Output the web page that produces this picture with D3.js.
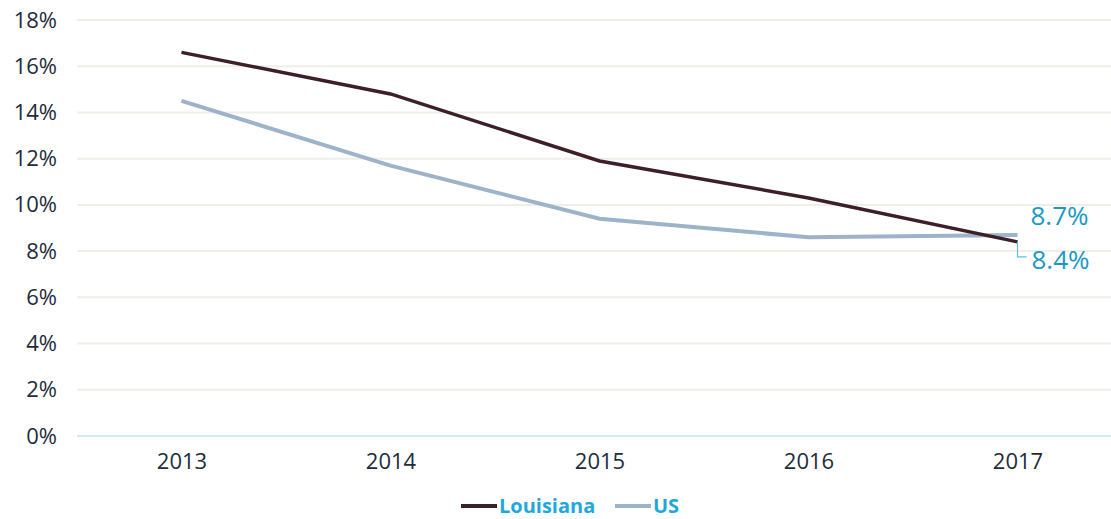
<!DOCTYPE html>
<html>
<head>
<meta charset="utf-8">
<script src="https://cdn.jsdelivr.net/npm/d3@7"></script>
<style>
  body { margin: 0; background: #fff; }
  svg text { font-family: "Open Sans", "DejaVu Sans", sans-serif; }
</style>
</head>
<body>
<svg width="1111" height="519"></svg>
<script>
const years = ['2013', '2014', '2015', '2016', '2017']
const louisiana = [16.6, 14.8, 11.9, 10.3, 8.4]
const us = [14.5, 11.7, 9.4, 8.6, 8.7]
const yTicks = [0, 2, 4, 6, 8, 10, 12, 14, 16, 18]

const svg = d3.select('svg')
const margin = { top: 20, left: 77, bottom: 83 }
const height = 519 - margin.top - margin.bottom

const x = d3.scalePoint()
  .domain(years)
  .range([margin.left, 1122])
  .padding(0.5)

const y = d3.scaleLinear()
  .domain([0, 18])
  .range([margin.top + height, margin.top])

// gridlines
svg.append('g')
  .selectAll('line')
  .data(yTicks)
  .enter().append('line')
  .attr('x1', margin.left)
  .attr('x2', 1111)
  .attr('y1', d => y(d))
  .attr('y2', d => y(d))
  .attr('stroke', d => d === 0 ? '#cfeaf2' : '#efefe9')
  .attr('stroke-width', 2)

// y axis labels
const yAxis = d3.axisLeft(y).tickValues(yTicks).tickFormat(d => d + '%').tickSize(0).tickPadding(20)
svg.append('g')
  .attr('transform', 'translate(' + margin.left + ',0)')
  .call(yAxis)
  .call(g => g.select('.domain').remove())
  .selectAll('text')
  .attr('font-size', 22)
  .attr('fill', '#1e2c3a')

// x axis labels
const xAxis = d3.axisBottom(x).tickSize(0).tickPadding(17)
svg.append('g')
  .attr('transform', 'translate(0,' + y(0) + ')')
  .call(xAxis)
  .call(g => g.select('.domain').remove())
  .selectAll('text')
  .attr('font-size', 22)
  .attr('fill', '#1e2c3a')

const line = d3.line()
  .x((d, i) => x(years[i]))
  .y(d => y(d))

svg.append('path')
  .datum(us)
  .attr('d', line)
  .attr('fill', 'none')
  .attr('stroke', '#9db3c9')
  .attr('stroke-width', 4)

svg.append('path')
  .datum(louisiana)
  .attr('d', line)
  .attr('fill', 'none')
  .attr('stroke', '#3d1f27')
  .attr('stroke-width', 3.5)

// end labels
const last = years.length - 1
const lx = x(years[last])
svg.append('text')
  .attr('x', lx + 13)
  .attr('y', y(us[last]) - 10)
  .attr('font-size', 26)
  .attr('fill', '#1c98c4')
  .text(us[last].toFixed(1) + '%')

svg.append('path')
  .attr('d', 'M' + lx + ',' + y(louisiana[last]) + 'V' + (y(louisiana[last]) + 15) + 'H' + (lx + 9))
  .attr('fill', 'none')
  .attr('stroke', '#5bc0e0')
  .attr('stroke-width', 1.2)

svg.append('text')
  .attr('x', lx + 14)
  .attr('y', y(louisiana[last]) + 27)
  .attr('font-size', 26)
  .attr('fill', '#1c98c4')
  .text(louisiana[last].toFixed(1) + '%')

// legend
const legend = [
  { name: 'Louisiana', color: '#3d1f27', x: 461 },
  { name: 'US', color: '#9db3c9', x: 615 }
]
const lg = svg.append('g')
legend.forEach(d => {
  lg.append('line')
    .attr('x1', d.x).attr('x2', d.x + 36)
    .attr('y1', 506).attr('y2', 506)
    .attr('stroke', d.color)
    .attr('stroke-width', 4)
  lg.append('text')
    .attr('x', d.x + 38)
    .attr('y', 513)
    .attr('font-size', 20)
    .attr('font-weight', 'bold')
    .attr('fill', '#1fa8dc')
    .text(d.name)
})
</script>
</body>
</html>
